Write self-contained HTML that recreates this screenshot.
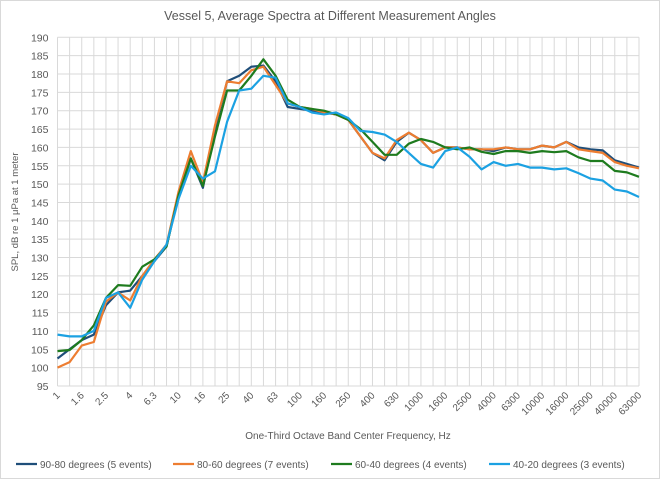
<!DOCTYPE html>
<html><head><meta charset="utf-8"><style>
body{margin:0;background:#fff}
svg{display:block;font-family:"Liberation Sans",Arial,sans-serif}
</style></head><body>
<svg width="660" height="479" viewBox="0 0 660 479" xmlns="http://www.w3.org/2000/svg">
<rect x="0.5" y="0.5" width="659" height="478" fill="#fff" stroke="#d9d9d9"/>
<text x="330" y="20" text-anchor="middle" font-size="12.5" fill="#595959">Vessel 5, Average Spectra at Different Measurement Angles</text>
<g id="grid" stroke="#d9d9d9" stroke-width="1"></g>
<g id="ylab" font-size="10.5" fill="#595959" text-anchor="end"></g>
<g id="xlab" font-size="10" fill="#595959" text-anchor="end"></g>
<text transform="translate(18,212) rotate(-90)" text-anchor="middle" font-size="9.5" fill="#595959">SPL, dB re 1 μPa at 1 meter</text>
<text x="348" y="439" text-anchor="middle" font-size="10" fill="#595959">One-Third Octave Band Center Frequency, Hz</text>
<g id="series" fill="none" stroke-width="2.2" stroke-linejoin="round"></g>
<g font-size="10" fill="#595959">
<line x1="16" y1="464" x2="37" y2="464" stroke="#1f4e79" stroke-width="2.2"/><text x="40" y="468">90-80 degrees (5 events)</text>
<line x1="173" y1="464" x2="194" y2="464" stroke="#ed7d31" stroke-width="2.2"/><text x="197" y="468">80-60 degrees (7 events)</text>
<line x1="331" y1="464" x2="352" y2="464" stroke="#1e7b1e" stroke-width="2.2"/><text x="355" y="468">60-40 degrees (4 events)</text>
<line x1="489" y1="464" x2="510" y2="464" stroke="#1ba1e2" stroke-width="2.2"/><text x="513" y="468">40-20 degrees (3 events)</text>
</g>
</svg>
<script>
const X0=57.5,DX=(639-57.5)/48,Y0=386,DY=(386-37.3)/95;
const fx=i=>X0+i*DX, fy=v=>Y0-(v-95)*DY;
const ns="http://www.w3.org/2000/svg";
const g=document.getElementById('grid'),yl=document.getElementById('ylab'),xl=document.getElementById('xlab');
function el(t,a,p,txt){const e=document.createElementNS(ns,t);for(const k in a)e.setAttribute(k,a[k]);if(txt!=null)e.textContent=txt;p.appendChild(e);return e;}
for(let v=95;v<=190;v+=5){const y=fy(v);el('line',{x1:X0,x2:fx(48),y1:y,y2:y},g);el('text',{x:X0-9,y:y+4},yl,v);}
for(let i=0;i<=48;i++){el('line',{x1:fx(i),x2:fx(i),y1:fy(190),y2:Y0},g);}
const F=["1","1.25","1.6","2","2.5","3.15","4","5","6.3","8","10","12.5","16","20","25","31.5","40","50","63","80","100","125","160","200","250","315","400","500","630","800","1000","1250","1600","2000","2500","3150","4000","5000","6300","8000","10000","12500","16000","20000","25000","31500","40000","50000","63000"];
for(let i=0;i<=48;i+=2){const x=fx(i)+3,y=Y0+10;el('text',{x:x,y:y,transform:`rotate(-45 ${x} ${y})`},xl,F[i]);}
const S=[
["#1f4e79",[102.5,105,107.5,109,117,120.5,121,125,129,133,147,157,149,165,178,179.5,182,182.3,178,171,170.5,170,169.5,169,167.5,163,158.5,156.5,161.5,164,162,158.5,160,160,159.5,159.5,159,160,159.5,159.5,160.5,160,161.5,160,159.5,159.2,156.5,155.5,154.5]],
["#ed7d31",[100,101.5,106,107,118,120.5,118.3,125,129.5,133.5,148,159,150.5,166,178,177.5,181,182,177,172,171,170.5,169.5,169,167.5,163,158.5,157,162,164,162,158.5,160,160,159.5,159.5,159.5,160,159.5,159.5,160.5,160,161.5,159.5,159,158.5,156,155,154.3]],
["#1e7b1e",[104.5,104.8,107.5,111.5,119,122.5,122.3,127.5,129.5,133,147,157,149.5,163,175.5,175.5,179.5,184,179.5,173,171,170.5,170,169,167.5,165,161.5,158,158,161,162.3,161.5,160,159.5,160,158.8,158.2,159,159,158.5,159,158.7,159,157.3,156.3,156.3,153.6,153.2,152]],
["#1ba1e2",[109,108.5,108.5,110,119,120.5,116.3,124,129,133.5,146,155,151.5,153.5,167,175.5,176,179.5,179,172,171,169.5,169,169.5,168,164.5,164.2,163.5,161.5,158.5,155.5,154.5,159,160,157.5,154,156,155,155.5,154.5,154.5,154,154.3,153,151.5,151,148.5,148,146.5]]];
const sg=document.getElementById('series');
for(const [c,d] of S){el('polyline',{stroke:c,points:d.map((v,i)=>fx(i).toFixed(1)+','+fy(v).toFixed(1)).join(' ')},sg);}
</script>
</body></html>
